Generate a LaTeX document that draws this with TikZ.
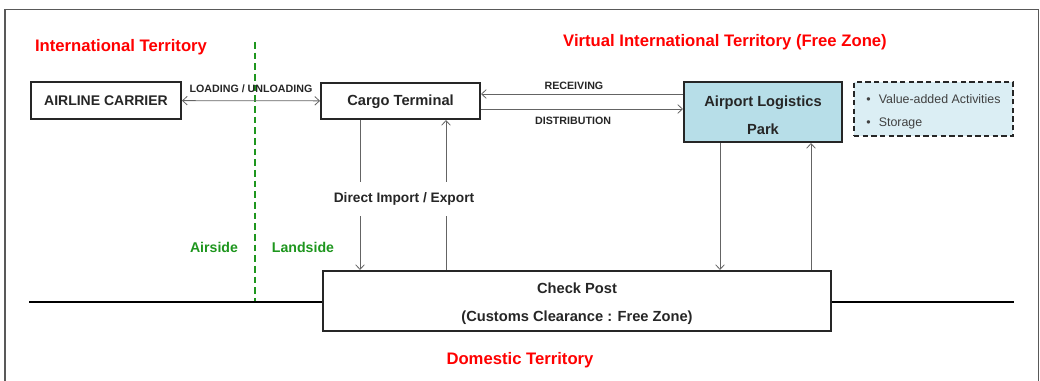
\documentclass[tikz,border=0pt]{standalone}
\usepackage{fontspec}
\setmainfont{Liberation Sans}
\usetikzlibrary{arrows.meta}
\definecolor{zonered}{RGB}{255,0,0}
\definecolor{sidegreen}{RGB}{30,150,30}
\definecolor{parkblue}{RGB}{183,222,232}
\definecolor{notebg}{RGB}{219,238,244}
\definecolor{flowgray}{RGB}{100,100,100}
\tikzset{
  box/.style={draw=black!85, line width=1.5pt, fill=white, text=black!85,
    font=\bfseries\fontsize{11}{13}\selectfont, inner sep=0pt},
  flow/.style={draw=flowgray, line width=0.6pt},
  tag/.style={font=\bfseries\fontsize{8}{10}\selectfont, text=black!85, inner sep=1pt},
  zone/.style={font=\bfseries\fontsize{12.5}{15}\selectfont, text=zonered},
  side/.style={font=\bfseries\fontsize{10.6}{13}\selectfont, text=sidegreen}
}

\begin{document}
\begin{tikzpicture}[x=0.75pt, y=-0.75pt, >={Straight Barb[length=3.5pt,width=6.5pt]}]
\useasboundingbox (0,0) rectangle (1040,381);
\draw [black!65, line width=1.2pt] (5,9.5) rectangle (1038.5,400);

% territories
\node [zone] (intl) at (121,47) {International Territory};
\node [zone] (virt) at (725,42) {Virtual International Territory (Free Zone)};
\node [zone] (dom) at (520,360) {Domestic Territory};

% airside / landside
\coordinate (divtop) at (255,42);
\coordinate (divbot) at (255,302);
\draw [sidegreen, line width=1.5pt, dash pattern=on 5pt off 3pt] (divtop) -- (divbot);
\node [side] (air) at (214,247) {Airside};
\node [side] (land) at (303,247) {Landside};

% boxes
\node [box, font=\bfseries\fontsize{10.5}{13}\selectfont, minimum width=112.5pt, minimum height=27.75pt]
  (carrier) at (106,100.5) {AIRLINE CARRIER};
\node [box, minimum width=119.25pt, minimum height=27pt, text height=8pt, text depth=1pt]
  (terminal) at (400.5,101) {Cargo Terminal};
\node [box, fill=parkblue, minimum width=118.5pt, minimum height=45pt, align=center]
  (park) at (763,112) {\rule{0pt}{12.5pt}Airport Logistics\\[8pt]Park};
\node [draw=black!85, line width=1.5pt, dash pattern=on 4pt off 2.5pt, fill=notebg,
  minimum width=119.25pt, minimum height=40.5pt, align=left, text=black!75,
  font=\fontsize{9.3}{17}\selectfont]
  (notes) at (933.5,109) {\rule{0pt}{11pt}\textbullet\hspace{6pt}Value-added Activities\\\textbullet\hspace{6pt}Storage};
\node [box, minimum width=381pt, minimum height=45pt, align=center]
  (check) at (577,301) {\rule{0pt}{12.5pt}Check Post\\[8pt](Customs Clearance : Free Zone)};

% ground line
\coordinate (gl) at (29,302);
\coordinate (gr) at (1014,302);
\draw [line width=2pt] (gl) -- (gl -| check.west);
\draw [line width=2pt] (check.east |- gr) -- (gr);

% flows
\draw [flow, <->] (carrier) -- (terminal)
  node [tag, midway, above=5pt] {LOADING / UNLOADING};
\draw [flow, ->] (park.west |- 0,94) -- (terminal.east |- 0,94)
  node [tag, pos=0.54, above=2pt] {RECEIVING};
\draw [flow, ->] (terminal.east |- 0,109) -- (park.west |- 0,109)
  node [tag, pos=0.456, below=5pt] {DISTRIBUTION};

\draw [flow, ->] (terminal.south -| 360,0) -- (check.north -| 360,0);
\draw [flow, ->] (check.north -| 446,0) -- (terminal.south -| 446,0);
\node [fill=white, font=\bfseries\fontsize{10.3}{12}\selectfont, text=black!85,
  inner ysep=8pt, inner xsep=1pt] (direct) at (404,199) {Direct Import / Export};

\draw [flow, ->] (park.south -| 720,0) -- (check.north -| 720,0);
\draw [flow, ->] (check.north -| 811,0) -- (park.south -| 811,0);
\end{tikzpicture}
\end{document}
